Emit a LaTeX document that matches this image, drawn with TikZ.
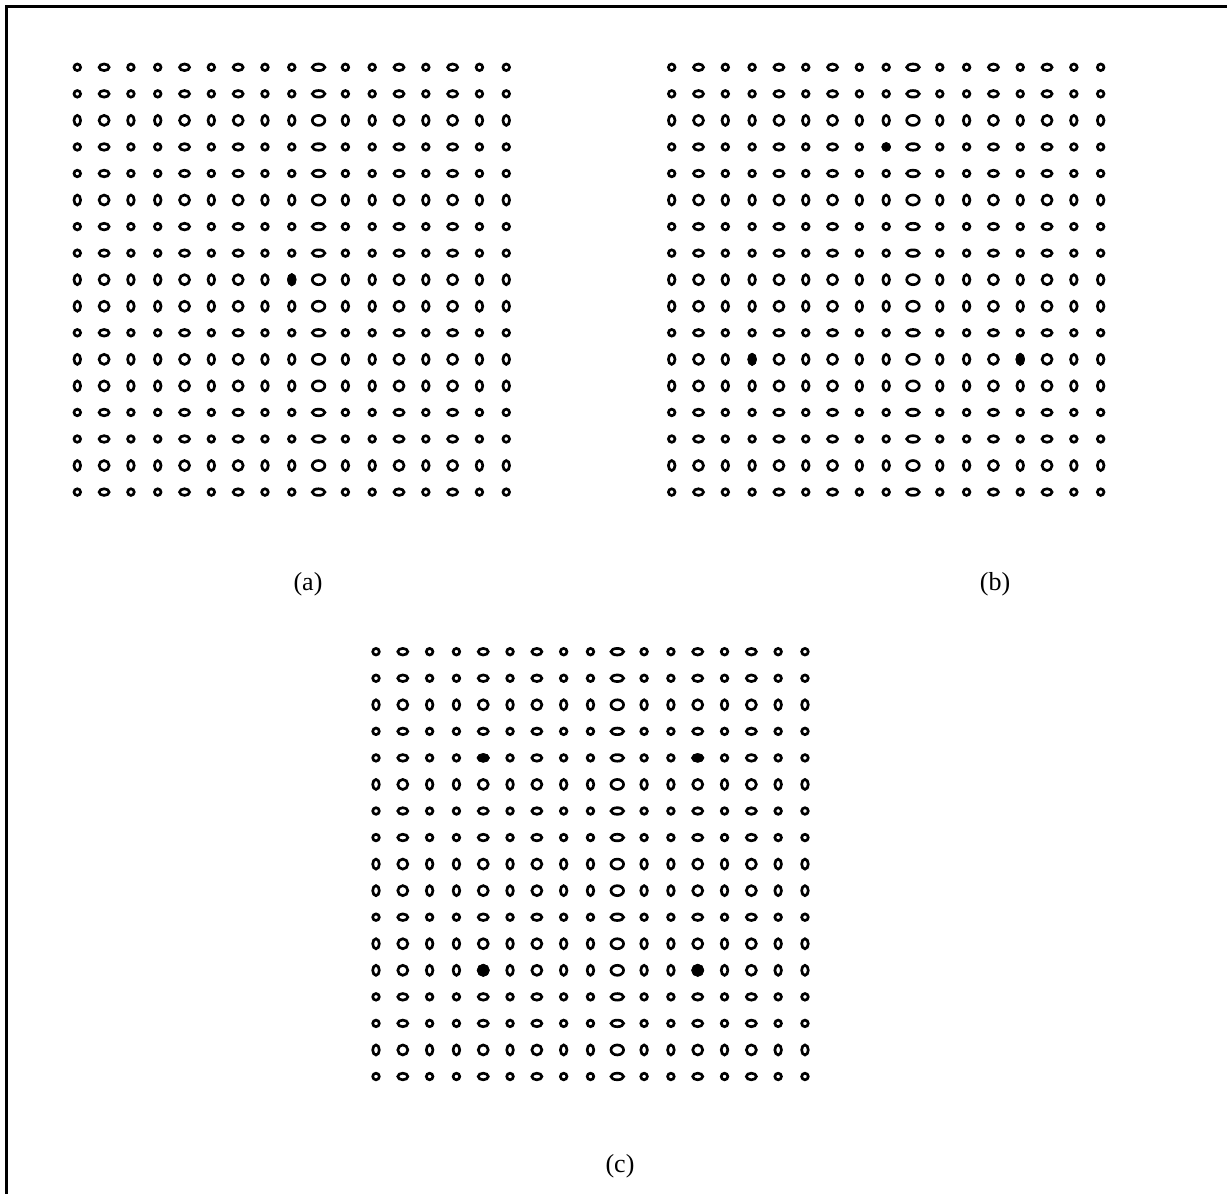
\documentclass[tikz,border=0pt]{standalone}
\usepackage{fontspec}
\setmainfont{Liberation Serif}
\begin{document}
\begin{tikzpicture}[x=0.75pt,y=-0.75pt,
  ell/.style={line width=2pt},
  dotfill/.style={line width=2pt, fill=black},
  lab/.style={font=\fontsize{19.5}{23}\selectfont, inner sep=0pt},
  frameline/.style={line width=2.5pt}]
\useasboundingbox (0,0) rectangle (1227,1194);
\draw[frameline] (6.7,1194) -- (6.7,6.7) -- (1227,6.7);
\def\dx{26.81}
\def\dy{26.55}
% grid panels: origin x, origin y
\foreach \px/\py in {77.3/67.3, 671.7/67.3, 376/651.7}{
  \foreach \i in {0,...,16}{
    \foreach \j in {0,...,16}{
      \pgfmathsetmacro\rx{{3.3,5,3.3,3.3,5,3.3,5,3.3,3.3,6.3,3.3,3.3,5,3.3,5,3.3,3.3}[\i]}
      \pgfmathsetmacro\ry{{3.3,3.3,5,3.3,3.3,5,3.3,3.3,5,5,3.3,5,5,3.3,3.3,5,3.3}[\j]}
      \draw[ell] (\px+\i*\dx,\py+\j*\dy) ellipse [x radius=\rx, y radius=\ry];
    }
  }
}
% filled sites
\foreach \px/\py/\i/\j in {77.3/67.3/8/8,
  671.7/67.3/8/3, 671.7/67.3/3/11, 671.7/67.3/13/11,
  376/651.7/4/4, 376/651.7/12/4, 376/651.7/4/12, 376/651.7/12/12}{
  \pgfmathsetmacro\rx{{3.3,5,3.3,3.3,5,3.3,5,3.3,3.3,6.3,3.3,3.3,5,3.3,5,3.3,3.3}[\i]}
  \pgfmathsetmacro\ry{{3.3,3.3,5,3.3,3.3,5,3.3,3.3,5,5,3.3,5,5,3.3,3.3,5,3.3}[\j]}
  \filldraw[dotfill] (\px+\i*\dx,\py+\j*\dy) ellipse [x radius=\rx, y radius=\ry];
}
\node[lab] (la) at (308,584) {(a)};
\node[lab] (lb) at (995,584) {(b)};
\node[lab] (lc) at (620,1166) {(c)};
\end{tikzpicture}
\end{document}
